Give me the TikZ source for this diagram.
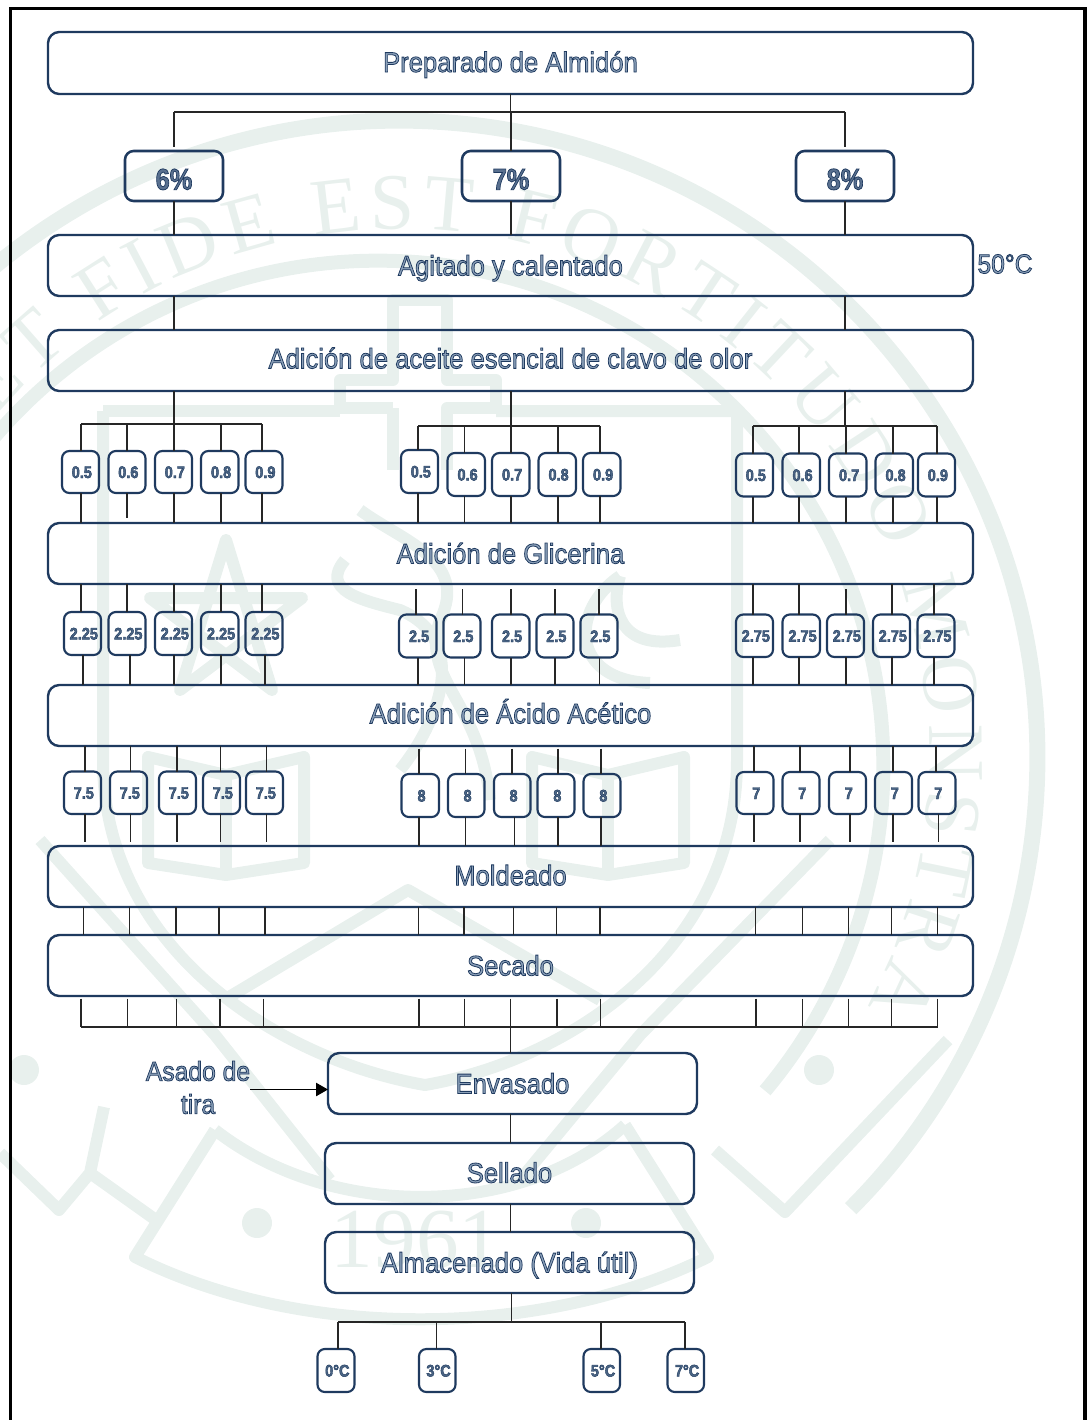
\documentclass[tikz,border=0pt]{standalone}
\usepackage{fontspec}
\usepackage{graphicx}
\setmainfont{Liberation Sans}
\newfontfamily\serifwm{Liberation Serif}
\usetikzlibrary{arrows.meta,decorations.text}
\definecolor{navy}{HTML}{1F3A5F}
\definecolor{wmark}{HTML}{E8F0ED}
\definecolor{conn}{HTML}{262626}
\def\otset{2 Tr 0.55 w 0.55 0.63 0.73 rg}
\def\otvs{1.1}
\def\otdy{0pt}
\def\otdx{0pt}
\newcommand\otxt[1]{\kern\otdx\raisebox{\otdy}{\scalebox{1}[\otvs]{\special{pdf:code \otset}#1\special{pdf:code 0 Tr}}}}
\tikzset{
  bigbox/.style={draw=navy,line width=1.8pt,rounded corners=8.5pt,inner sep=0pt,outer sep=0pt,text=navy,text height=15pt,text depth=0pt,font=\fontsize{19.2}{23}\selectfont},
  pctbox/.style={draw=navy,line width=1.9pt,rounded corners=6.5pt,inner sep=0pt,outer sep=0pt,text=navy,text height=16pt,text depth=0pt,font=\fontsize{19}{22}\selectfont\bfseries\def\otvs{1.18}\def\otdy{-2.25pt}\def\otset{2 Tr 0.5 w 0.35 0.44 0.56 rg}},
  tinybox/.style={draw=navy,line width=1.6pt,rounded corners=5.5pt,inner sep=0pt,outer sep=0pt,text=navy,text height=9pt,text depth=0pt,font=\fontsize{10.9}{13}\selectfont\bfseries\def\otvs{1.15}\def\otdx{2pt}\def\otset{2 Tr 0.3 w 0.3 0.4 0.52 rg}},
  plainlab/.style={inner sep=0pt,outer sep=0pt,text=navy,align=center,font=\fontsize{18.5}{24.75}\selectfont},
  raisetxt/.style={execute at begin node=\def\otdy{#1}},
  ln/.style={draw=conn,line width=1.15pt},
  wm/.style={draw=wmark,line width=#1,line join=round},
  wm/.default=9pt
}
\newcommand\bx[7]{\node[#1,minimum width={(#4-#3)*0.75pt},minimum height={(#6-#5)*0.75pt}] (#2) at ({(#3+#4)/2},{(#5+#6)/2}) {\otxt{#7}};}
\newcommand\fromtop[3][]{\foreach \x/\n in {#3}{\draw[ln,#1] (#2 -| \x,0) -- (\n.north -| \x,0);}}
\newcommand\frombot[3][]{\foreach \x/\n in {#3}{\draw[ln,#1] (\n.south -| \x,0) -- (#2 -| \x,0);}}
\begin{document}
\begin{tikzpicture}[x=0.75pt,y=-0.75pt]
\useasboundingbox (0,0) rectangle (1087,1420);
% watermark
\begin{scope}
\clip (0,0) rectangle (1087,1420);
\coordinate (wc) at (400,758);
\coordinate (wi) at (378,766);
\draw[wm=12pt] (wc) ++(172:478pt) arc[start angle=172,end angle=-45,radius=478pt];
\draw[wm=10.5pt] (wi) ++(180:379pt) arc[start angle=180,end angle=-40,radius=379pt];
\path[decorate,decoration={text along path,text align={fit to path},text color=wmark,
  text={|\serifwm\fontsize{60}{60}\selectfont|ET FIDE EST FORTITUDO MONSTRA}}]
  (wc) ++(140:397pt) arc[start angle=140,end angle=-28,radius=397pt];
% shield
\draw[wm] (103,411) -- (103,760) .. controls (103,950) and (280,1060) .. (425,1085)
  .. controls (570,1060) and (737,950) .. (737,760) -- (737,411) -- (496,411);
\draw[wm] (103,411) -- (340,411);
% cross
\draw[wm] (393,408) -- (340,408) -- (340,380) -- (393,380) -- (393,300) -- (447,300) -- (447,380) -- (496,380) -- (496,408) -- (447,408) -- (447,470);
\draw[wm] (393,408) -- (393,470);
% books
\draw[wm] (148,757) -- (226,775) -- (304,757) -- (304,863) -- (226,875) -- (148,863) -- cycle;
\draw[wm] (226,775) -- (226,875);
\draw[wm] (532,757) -- (608,775) -- (684,757) -- (684,863) -- (608,875) -- (532,863) -- cycle;
\draw[wm] (608,775) -- (608,875);
% star
\draw[wm] (226,540) -- (272,690) -- (150,598) -- (302,598) -- (180,690) -- cycle;
% central emblem
\draw[wm=9pt] (345,560) .. controls (320,590) and (360,600) .. (400,610) .. controls (470,640) and (440,720) .. (400,770);
\draw[wm=9pt] (360,510) .. controls (400,540) and (470,560) .. (440,620) .. controls (420,680) and (480,700) .. (490,800);
% crescent
\draw[wm=9pt] (620,576) .. controls (570,610) and (570,680) .. (650,683);
\draw[wm=9pt] (620,576) .. controls (610,610) and (620,650) .. (680,640);
% chevrons and ribbon
\draw[wm] (224,1000) -- (408,890) -- (600,1000);
\draw[wm=9pt] (40,840) -- (215,1035) -- (330,1180);
\draw[wm=9pt] (830,840) -- (640,1035) -- (520,1180);
\draw[wm] (0,1153) -- (59,1210) -- (90,1173) -- (104,1107);
\draw[wm] (90,1173) -- (156,1220);
\draw[wm] (215,1130) -- (135,1257) .. controls (300,1340) and (540,1340) .. (708,1257) -- (625,1125);
\draw[wm] (215,1130) .. controls (330,1220) and (520,1220) .. (625,1125);
\draw[wm] (715,1150) -- (785,1212) -- (948,1040);
\foreach \p in {(257,1223),(586,1223),(24,1070),(819,1070)} \fill[wmark] \p circle[radius=15pt*0.75];
\node[text=wmark,inner sep=0pt] (yr) at (416,1240) {\serifwm\fontsize{64}{64}\selectfont 1961};
\end{scope}
% frame
\draw[black,line width=2.8pt] (10.5,1420) -- (10.5,8.5) -- (1085,8.5) -- (1085,1420);
% main boxes
\bx{bigbox,raisetxt=0.75pt}{prep}{48}{973}{32}{94}{Preparado de Almidón}
\bx{bigbox}{agit}{48}{973}{235}{296}{Agitado y calentado}
\bx{bigbox,raisetxt=1.6pt}{clav}{48}{973}{330}{391}{Adición de aceite esencial de clavo de olor}
\bx{bigbox}{glic}{48}{973}{523}{584}{Adición de Glicerina}
\bx{bigbox,raisetxt=1.6pt}{acet}{48}{973}{685}{746}{Adición de Ácido Acético}
\bx{bigbox,raisetxt=0.9pt}{mold}{48}{973}{846}{907}{Moldeado}
\bx{bigbox}{seca}{48}{973}{935}{996}{Secado}
\bx{bigbox}{enva}{328}{697}{1053}{1114}{Envasado}
\bx{bigbox,raisetxt=0.6pt}{sell}{325}{694}{1143}{1204}{Sellado}
\bx{bigbox}{alma}{325}{694}{1232}{1293}{Almacenado (Vida útil)}
\bx{pctbox}{p6}{125}{223}{151}{201}{6\%}
\bx{pctbox}{p7}{462}{560}{151}{201}{7\%}
\bx{pctbox}{p8}{796}{894}{151}{201}{8\%}
\node[plainlab] (t50) at (1005,264) {\otxt{50°C}};
\node[plainlab] (asado) at (198,1087.5) {\otxt{Asado de}\\\otxt{tira}};
% small boxes
\foreach \n/\xa/\xb/\ya/\yb/\t in {
 a1/62/99/451/493/0.5,a2/108.5/145.5/451/493/0.6,a3/155/192/451/493/0.7,a4/201/238.5/451/493/0.8,a5/245.5/282.5/451/493/0.9,
 a6/401/438/450/493/0.5,a7/447.5/485/453/496/0.6,a8/492/529.5/453/496/0.7,a9/538.5/576/453/496/0.8,a10/583/620.5/453/496/0.9,
 a11/736/773/453.5/496.5/0.5,a12/782.5/820/453.5/496.5/0.6,a13/829/866.5/453.5/496.5/0.7,a14/875.5/913/453.5/496.5/0.8,a15/918/955/453.5/496.5/0.9,
 b1/64/101/612/655/2.25,b2/108.5/145.5/612/655/2.25,b3/155/192/612/655/2.25,b4/201/238.5/612/655/2.25,b5/245.5/282.5/612/655/2.25,
 b6/399/436.5/614.5/657.5/2.5,b7/443.5/480.5/614.5/657.5/2.5,b8/492/529.5/614.5/657.5/2.5,b9/536.5/573.5/614.5/657.5/2.5,b10/580.5/617.5/614.5/657.5/2.5,
 b11/736/773/614.5/657/2.75,b12/782.5/820/614.5/657/2.75,b13/827/864/614.5/657/2.75,b14/873/910/614.5/657/2.75,b15/917.5/954.5/614.5/657/2.75,
 c1/64/101/771.5/814/7.5,c2/110/147/771.5/814/7.5,c3/159/196/771.5/814/7.5,c4/203/240/771.5/814/7.5,c5/246/283/771.5/814/7.5,
 c6/401.5/439/774/817/8,c7/448/484.5/774/817/8,c8/494/530.5/774/817/8,c9/537.5/574.5/774/817/8,c10/583.5/620.5/774/817/8,
 c11/736.5/773.5/772/814/7,c12/782.5/819.5/772/814/7,c13/829/866/772/814/7,c14/875/912/772/814/7,c15/918.5/955.5/772/814/7,
 t0/317.5/354.5/1349/1392/0°C,t3/419/455.5/1349/1392/3°C,t5/583.5/620/1349/1392/5°C,t7/667.5/704/1349/1392/7°C}
{\bx{tinybox}{\n}{\xa}{\xb}{\ya}{\yb}{\t}}
% free junctions
\coordinate (j0) at (0,112);
\coordinate (j1) at (0,424);
\coordinate (j2) at (0,426);
\coordinate (j3) at (0,1027);
\coordinate (j4) at (0,1322);
% top
\draw[ln] (prep.south) -- (j0 -| prep.south);
\draw[ln] (j0 -| p6.north) -- (j0 -| p8.north);
\draw[ln,shorten >=3pt] (j0 -| p6.north) -- (p6.north);
\draw[ln] (j0 -| p7.north) -- (p7.north);
\draw[ln,shorten >=3pt] (j0 -| p8.north) -- (p8.north);
\foreach \n in {p6,p7,p8} \draw[ln] (\n.south) -- (agit.north -| \n.south);
\foreach \n in {p6,p8} \draw[ln] (agit.south -| \n.south) -- (clav.north -| \n.south);
% trunks into the concentration buses
\foreach \n/\j in {p6/j1,p7/j2,p8/j2} \draw[ln] (clav.south -| \n.south) -- (\j -| \n.south);
\draw[ln] (j1 -| 81,0) -- (j1 -| 262,0);
\draw[ln] (j2 -| 418,0) -- (j2 -| 600,0);
\draw[ln] (j2 -| 753,0) -- (j2 -| 937,0);
% row a connectors
\fromtop{j1}{81/a1,127/a2,174/a3,221/a4,262/a5}
\fromtop{j2}{418/a6,464.5/a7,511/a8,558/a9,600/a10}
\fromtop{j2}{753/a11,799/a12,846/a13,893/a14,937/a15}
\frombot{glic.north}{81/a1,174/a3,221/a4,262/a5,418/a6,464.5/a7,511/a8,558/a9,600/a10,753/a11,799/a12,846/a13,893/a14,937/a15}
\frombot[shorten >=4pt]{glic.north}{127/a2}
% row b connectors
\fromtop{glic.south}{81/b1,127/b2,174/b3,221/b4,262/b5,753/b11,799/b12,892/b14,934/b15}
\fromtop[shorten <=4pt]{glic.south}{416/b6,462.5/b7,511/b8,555/b9,599/b10,846/b13}
\frombot{acet.north}{83/b1,130/b2,174/b3,221/b4,265/b5,418/b6,464.5/b7,511/b8,555/b9,599.5/b10,753/b11,799/b12,846/b13,892/b14,934/b15}
% row c connectors
\fromtop{acet.south}{85/c1,130.5/c2,177/c3,220.5/c4,266.5/c5,754/c11,800/c12,850/c13,893/c14,936/c15}
\fromtop[shorten <=2pt]{acet.south}{419/c6,465.5/c7,512/c8,558/c9,601/c10}
\frombot[shorten >=3pt]{mold.north}{85/c1,130.5/c2,177/c3,220.5/c4,266.5/c5,754/c11,800/c12,850/c13,893/c14,938.5/c15}
\frombot{mold.north}{419/c6,465.5/c7,514.5/c8,558/c9,601/c10}
% Moldeado to Secado
\foreach \x in {83.5,129.5,176,219,265,418.5,464,513.5,556.5,600,755.5,802.5,848.5,891.5,937.5}
  \draw[ln] (mold.south -| \x,0) -- (seca.north -| \x,0);
% Secado to the common bus
\foreach \x in {81,127.5,176.5,220,263.5,419,464.5,557,600.5,756,802.5,848.5,891.5,937.5}
  \draw[ln,shorten <=2pt] (seca.south -| \x,0) -- (j3 -| \x,0);
\draw[ln] (j3 -| 81,0) -- (j3 -| 937.5,0);
\draw[ln,shorten <=2pt] (seca.south) -- (j3 -| seca.south);
\draw[ln] (j3 -| seca.south) -- (enva.north -| seca.south);
% lower chain
\draw[ln] (enva.south -| 510.5,0) -- (sell.north -| 510.5,0);
\draw[ln] (sell.south -| 510.5,0) -- (alma.north -| 510.5,0);
\draw[ln] (alma.south -| 511.5,0) -- (j4 -| 511.5,0);
\draw[ln] (j4 -| 338,0) -- (j4 -| 685,0);
\fromtop{j4}{338/t0,436.5/t3,601/t5,685/t7}
% arrow
\draw[ln,-{Triangle[length=9pt,width=10pt]},draw=black,fill=black] (asado.east |- 0,1089.5) -- (enva.west |- 0,1089.5);
\end{tikzpicture}
\end{document}
